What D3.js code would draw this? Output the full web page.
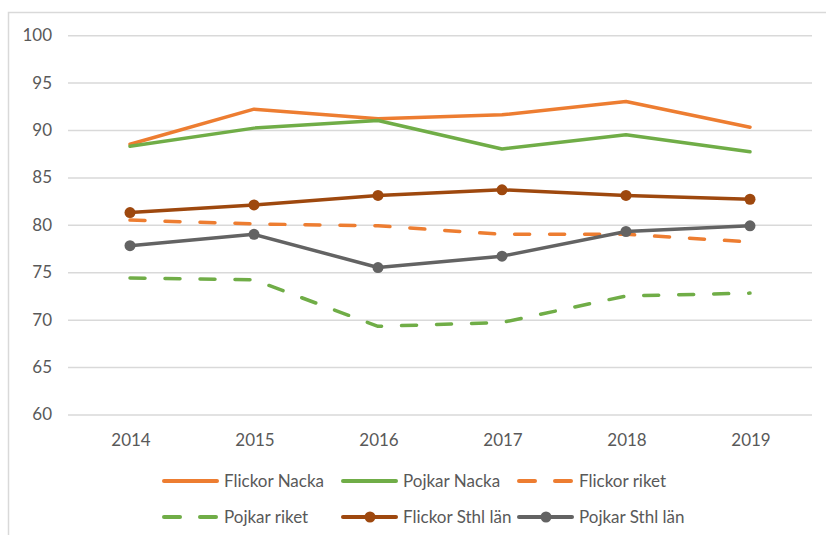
<!DOCTYPE html>
<html>
<head>
<meta charset="utf-8">
<script src="https://cdn.jsdelivr.net/npm/d3@7"></script>
<style>
  body { margin: 0; background: #fff; }
  text { font-family: Lato, "Open Sans", sans-serif; fill: #595959; }
</style>
</head>
<body>
<div id="chart"></div>
<script>
var years = ["2014", "2015", "2016", "2017", "2018", "2019"];
var yTicks = [60, 65, 70, 75, 80, 85, 90, 95, 100];

var flickorNacka = [88.5, 92.2, 91.2, 91.6, 93.0, 90.3];
var pojkarNacka = [88.3, 90.2, 91.0, 88.0, 89.5, 87.7];
var flickorRiket = [80.5, 80.1, 79.9, 79.0, 79.0, 78.2];
var pojkarRiket = [74.4, 74.2, 69.3, 69.7, 72.5, 72.8];
var flickorSthl = [81.3, 82.1, 83.1, 83.7, 83.1, 82.7];
var pojkarSthl = [77.8, 79.0, 75.5, 76.7, 79.3, 79.9];

var series = [
    { name: "Flickor Nacka", values: flickorNacka, color: "#ED7D31", dash: null, marker: false },
    { name: "Pojkar Nacka", values: pojkarNacka, color: "#70AD47", dash: null, marker: false },
    { name: "Flickor riket", values: flickorRiket, color: "#ED7D31", dash: "15,20", marker: false },
    { name: "Pojkar riket", values: pojkarRiket, color: "#70AD47", dash: "15,20", marker: false },
    { name: "Flickor Sthl län", values: flickorSthl, color: "#9E480E", dash: null, marker: true },
    { name: "Pojkar Sthl län", values: pojkarSthl, color: "#636363", dash: null, marker: true }
];

var svg = d3.select("#chart")
    .append("svg")
    .attr("width", 826)
    .attr("height", 535);

// chart frame (cut at right and bottom)
svg.append("rect")
    .attr("x", 8.5).attr("y", 12.5)
    .attr("width", 830).attr("height", 540)
    .attr("fill", "none")
    .attr("stroke", "#d9d9d9")
    .attr("stroke-width", 1.5);

var x = d3.scaleBand().domain(years).range([68, 812]);
var y = d3.scaleLinear().domain([60, 100]).range([414.5, 35.2]);

var yAxis = d3.axisLeft(y).tickValues(yTicks).tickSize(-(812 - 68)).tickPadding(16);
var gy = svg.append("g")
    .attr("transform", "translate(" + 68 + ",0)")
    .call(yAxis);
gy.select(".domain").remove();
gy.selectAll(".tick line").attr("stroke", "#d9d9d9").attr("stroke-width", 1.5);
gy.selectAll(".tick text").attr("font-size", 17).attr("fill", "#595959");

var xAxis = d3.axisBottom(x).tickSize(0).tickPadding(19);
var gx = svg.append("g")
    .attr("transform", "translate(1," + 414.5 + ")")
    .call(xAxis);
gx.select(".domain").remove();
gx.selectAll(".tick text").attr("font-size", 17).attr("fill", "#595959");

var line = d3.line()
    .x(function (d, i) { return x(years[i]) + x.bandwidth() / 2; })
    .y(function (d) { return y(d); });

series.forEach(function (s) {
    svg.append("path")
        .datum(s.values)
        .attr("d", line)
        .attr("fill", "none")
        .attr("stroke", s.color)
        .attr("stroke-width", 3.5)
        .attr("stroke-linejoin", "round")
        .attr("stroke-linecap", "round")
        .attr("stroke-dasharray", s.dash);
    if (s.marker) {
        svg.selectAll(null)
            .data(s.values).enter().append("circle")
            .attr("cx", function (d, i) { return x(years[i]) + x.bandwidth() / 2; })
            .attr("cy", function (d) { return y(d); })
            .attr("r", 5.5)
            .attr("fill", s.color);
    }
});

// legend
var legendX = [162, 341, 517];
var legendY = [481, 517];
series.forEach(function (s, i) {
    var lx = legendX[i % 3], ly = legendY[Math.floor(i / 3)];
    var g = svg.append("g").attr("transform", "translate(" + lx + "," + ly + ")");
    if (s.dash) {
        g.append("line").attr("x1", 2).attr("x2", 18).attr("y1", 0).attr("y2", 0)
            .attr("stroke", s.color).attr("stroke-width", 4).attr("stroke-linecap", "round");
        g.append("line").attr("x1", 38).attr("x2", 54).attr("y1", 0).attr("y2", 0)
            .attr("stroke", s.color).attr("stroke-width", 4).attr("stroke-linecap", "round");
    } else {
        g.append("line").attr("x1", 2).attr("x2", 55).attr("y1", 0).attr("y2", 0)
            .attr("stroke", s.color).attr("stroke-width", 4).attr("stroke-linecap", "round");
    }
    if (s.marker) {
        g.append("circle").attr("cx", 29).attr("cy", 0).attr("r", 5.5).attr("fill", s.color);
    }
    g.append("text")
        .attr("x", 62).attr("y", 0)
        .attr("dy", "0.35em")
        .attr("font-size", 17)
        .text(s.name);
});
</script>
</body>
</html>
